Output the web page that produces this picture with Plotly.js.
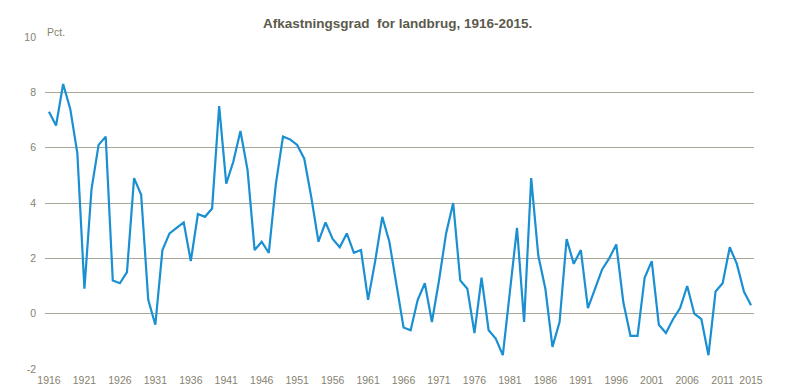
<!DOCTYPE html>
<html>
<head>
<meta charset="utf-8">
<script src="https://cdn.plot.ly/plotly-3.0.1.min.js"></script>
<style>html,body{margin:0;padding:0;background:#fff;}#chart{width:800px;height:391px;}</style>
</head>
<body>
<div id="chart"></div>
<script>
const years = [];
for (let y = 1916; y <= 2015; y++) years.push(y);
const values = [
  7.3, 6.8, 8.3, 7.4, 5.8, 0.9, 4.5, 6.1, 6.4, 1.2,
  1.1, 1.5, 4.9, 4.3, 0.5, -0.4, 2.3, 2.9, 3.1, 3.3,
  1.9, 3.6, 3.5, 3.8, 7.5, 4.7, 5.5, 6.6, 5.2, 2.3,
  2.6, 2.2, 4.7, 6.4, 6.3, 6.1, 5.6, 4.2, 2.6, 3.3,
  2.7, 2.4, 2.9, 2.2, 2.3, 0.5, 1.9, 3.5, 2.6, 1.1,
  -0.5, -0.6, 0.5, 1.1, -0.3, 1.2, 2.9, 4.0, 1.2, 0.9,
  -0.7, 1.3, -0.6, -0.9, -1.5, 0.8, 3.1, -0.3, 4.9, 2.1,
  0.9, -1.2, -0.3, 2.7, 1.8, 2.3, 0.2, 0.9, 1.6, 2.0,
  2.5, 0.4, -0.8, -0.8, 1.3, 1.9, -0.4, -0.7, -0.2, 0.2,
  1.0, 0.0, -0.2, -1.5, 0.8, 1.1, 2.4, 1.8, 0.8, 0.3
];
const xTickVals = [1916, 1921, 1926, 1931, 1936, 1941, 1946, 1951, 1956, 1961, 1966, 1971, 1976, 1981, 1986, 1991, 1996, 2001, 2006, 2011, 2015];
const xTickText = xTickVals.map(String);
const yTickVals = [-2, 0, 2, 4, 6, 8, 10];
const yTickText = ['-2', '0', '2', '4', '6', '8', '10'];

const tickFont = {family: '"Liberation Sans", Arial, sans-serif', size: 10.5, color: '#85826f'};

Plotly.newPlot('chart', [{
  x: years, y: values, type: 'scatter', mode: 'lines',
  line: {color: '#1a8fd2', width: 2.2},
  hoverinfo: 'x+y'
}], {
  width: 800, height: 391,
  margin: {l: 45, r: 46, t: 37, b: 22},
  paper_bgcolor: '#ffffff', plot_bgcolor: '#ffffff',
  showlegend: false,
  title: {
    text: 'Afkastningsgrad&nbsp; for landbrug, 1916-2015.',
    font: {family: '"Liberation Sans", Arial, sans-serif', size: 13.5, color: '#5b5a4c', weight: 'bold'},
    x: 0.497, xanchor: 'center', y: 0.94, yanchor: 'middle'
  },
  xaxis: {
    range: [1915.44, 2015.42], tickmode: 'array', tickvals: xTickVals, ticktext: xTickText,
    showgrid: false, zeroline: false, showline: false, ticks: '', tickangle: 0,
    tickfont: tickFont, ticklabelstandoff: 3, fixedrange: true
  },
  yaxis: {
    range: [-2, 10], tickmode: 'array', tickvals: yTickVals, ticktext: yTickText,
    showgrid: true, gridcolor: '#a9a898', gridwidth: 1, zeroline: false, showline: false, ticks: '',
    tickfont: tickFont, ticklabelstandoff: 8, fixedrange: true
  },
  annotations: [{
    text: 'Pct.', xref: 'paper', yref: 'paper', x: 0, y: 1, xanchor: 'left', yanchor: 'bottom',
    showarrow: false, font: {family: tickFont.family, size: 10.5, color: '#85826f'}, yshift: -3
  }]
}, {displayModeBar: false, staticPlot: true});
</script>
</body>
</html>
